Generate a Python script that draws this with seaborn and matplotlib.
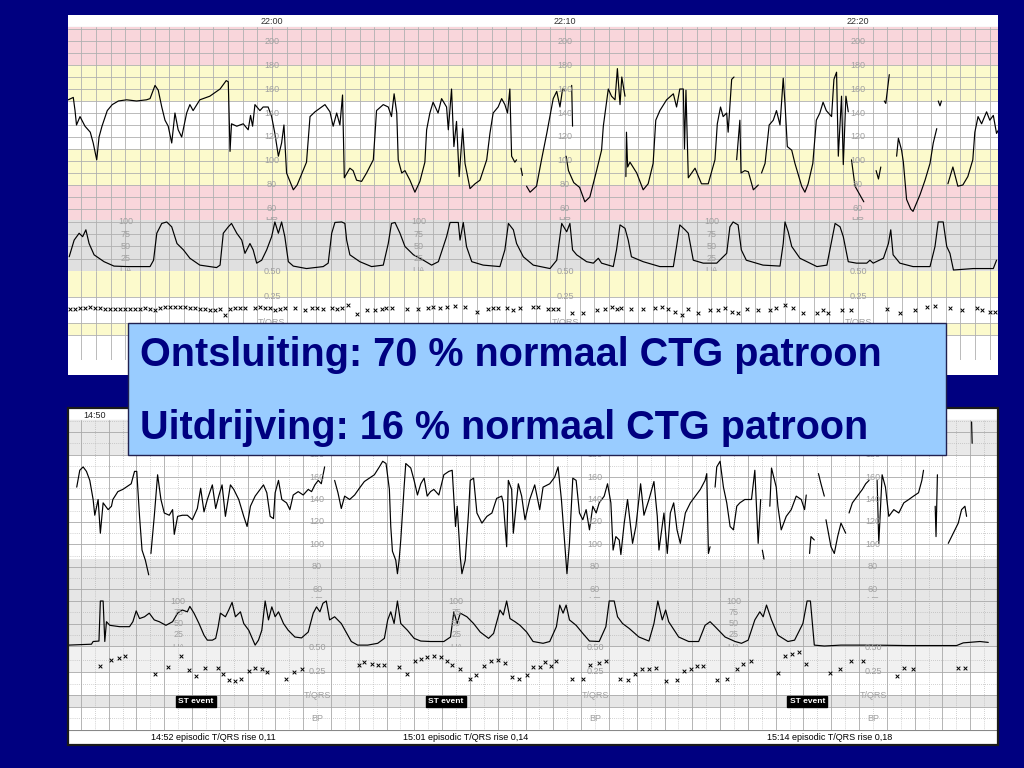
import numpy as np
import pandas as pd
import matplotlib
matplotlib.use('Agg')
import matplotlib.pyplot as plt
import seaborn as sns
from matplotlib.patches import Rectangle

# ---------------- top strip: ontsluiting (minutes relative to 22:00) ----------------
top_time_labels = ['22:00', '22:10', '22:20']
top_time_min = [0, 10, 20]

# fetal heart rate (minute, bpm); None marks a signal gap
top_hr = [(-6.95, 151), (-6.78, 153), (-6.72, 142), (-6.67, 130), (-6.55, 137), (-6.38, 129), (-6.2, 124),
          (-6.1, 115), (-5.98, 101), (-5.9, 120), (-5.8, 129), (-5.62, 142), (-5.45, 147), (-5.24, 150),
          (-4.96, 151), (-4.62, 150), (-4.28, 151), (-4.16, 152), (-3.99, 163), (-3.88, 159), (-3.76, 145),
          (-3.65, 134), (-3.54, 129), (-3.42, 115), (-3.31, 140), (-3.2, 126), (-3.08, 120), (-2.91, 140),
          (-2.8, 147), (-2.69, 142), (-2.46, 151), (-2.12, 154), (-1.77, 160), (-1.56, 167), (-1.49, 166),
          (-1.43, 108), (-1.38, 131), (-1.2, 129), (-0.98, 131), (-0.81, 126), (-0.73, 138), (-0.66, 129),
          (-0.58, 147), (-0.41, 142), (-0.3, 145), (-0.13, 145), (-0.01, 137), (0.1, 123), (0.22, 104),
          (0.33, 115), (0.41, 130), (0.5, 90), (0.73, 76), (0.86, 80), (1.18, 99), (1.3, 137), (1.47, 141),
          (1.81, 147), (1.98, 141), (2.09, 129), (2.21, 140), (2.32, 130), (2.41, 155), (2.47, 86), (2.66, 94),
          (2.77, 92), (2.89, 84), (3.06, 83), (3.23, 90), (3.46, 101), (3.57, 142), (3.8, 147), (3.97, 145),
          (4.08, 137), (4.17, 156), (4.26, 140), (4.31, 101), (4.43, 90), (4.54, 92), (4.71, 84), (4.88, 74),
          (5.05, 83), (5.22, 99), (5.28, 126), (5.39, 140), (5.5, 149), (5.67, 140), (5.79, 152), (5.96, 145),
          (6.02, 126), (6.13, 160), (6.21, 112), (6.3, 133), (6.39, 87), (6.51, 127), (6.59, 98), (6.76, 77),
          (6.93, 81), (7.1, 84), (7.33, 101), (7.44, 123), (7.55, 140), (7.72, 145), (7.84, 152), (7.95, 147),
          (8.04, 140), (8.12, 160), (8.18, 104), (8.29, 99), (8.35, 101), None,
          (8.5, 94), (8.55, 88), None,
          (8.69, 79), (8.81, 74), (9.03, 79), (9.2, 101), (9.38, 123), (9.6, 152), (9.72, 158), (9.83, 145),
          (9.92, 160), (9.98, 159), None,
          (10.23, 163), (10.26, 129), None,
          (10.04, 104), (10.12, 92), (10.3, 82), (10.5, 78), (10.68, 66), (10.85, 70), (11.08, 92), (11.25, 109),
          (11.31, 129), (11.48, 160), (11.59, 154), (11.71, 151), (11.79, 177), (11.88, 147), (11.94, 170),
          (12.05, 154), None,
          (12.08, 87), (12.1, 124), (12.14, 95), (12.22, 99), (12.45, 90), (12.67, 76), (12.84, 81), (13.01, 98),
          (13.1, 134), (13.24, 142), (13.47, 151), (13.7, 156), (13.81, 145), (13.92, 160), (14.04, 160),
          (14.08, 110), (14.13, 159), (14.21, 86), (14.44, 94), (14.66, 81), (14.89, 81), (15.12, 101),
          (15.2, 131), (15.31, 145), (15.4, 137), (15.52, 140), (15.57, 124), (15.69, 168), (15.77, 170), None,
          (15.86, 101), (15.97, 134), (16.01, 90), (16.14, 92), (16.26, 91), (16.43, 76), (16.6, 80), None,
          (16.71, 90), (16.83, 98), (16.97, 130), (17.11, 134), (17.22, 142), (17.34, 130), (17.45, 169),
          (17.51, 148), (17.59, 112), (17.74, 109), (17.85, 98), (18.08, 79), (18.19, 74), (18.3, 81),
          (18.46, 98), (18.58, 134), (18.7, 140), (18.81, 149), (18.92, 142), (19.1, 137), (19.18, 168),
          (19.27, 174), (19.33, 104), (19.44, 154), (19.5, 97), (19.59, 154), (19.67, 141), None,
          (19.78, 101), (19.9, 79), (20.13, 69), (20.2, 66), None,
          (20.62, 92), (20.7, 85), (20.78, 95), None,
          (20.9, 150), (20.95, 148), (21.07, 172), None,
          (21.32, 104), (21.38, 119), (21.49, 109), (21.55, 99), (21.66, 68), (21.8, 60), (21.88, 58),
          (22.12, 72), (22.29, 84), (22.46, 98), (22.57, 115), (22.69, 127), None,
          (22.74, 150), (22.8, 146), (22.85, 150), None,
          (23.07, 81), (23.24, 95), (23.41, 79), (23.58, 80), (23.75, 87), (23.92, 101), (23.99, 124),
          (24.1, 137), (24.22, 131), (24.39, 141), (24.5, 134), (24.62, 138), (24.73, 123), (24.8, 126)]

# uterine activity (minute, UA)
top_ua = [(-6.92, 29), (-6.75, 63), (-6.58, 77), (-6.46, 70), (-6.35, 84), (-6.24, 56), (-6.07, 33), (-5.73, 19),
          (-5.39, 10), (-4.95, 9), (-4.16, 9), (-4.04, 22), (-3.93, 77), (-3.76, 97), (-3.59, 100), (-3.42, 90),
          (-3.24, 56), (-3.02, 43), (-2.8, 26), (-2.46, 12), (-1.89, 7), (-1.77, 12), (-1.66, 77), (-1.49, 90),
          (-1.38, 97), (-1.2, 77), (-1.03, 63), (-0.92, 36), (-0.75, 56), (-0.64, 43), (-0.52, 16), (-0.35, 22),
          (-0.18, 43), (-0.01, 70), (0.1, 100), (0.22, 77), (0.33, 100), (0.44, 70), (0.56, 19), (0.73, 10),
          (1.18, 5), (1.75, 9), (1.92, 16), (2.04, 77), (2.15, 99), (2.38, 100), (2.49, 97), (2.55, 63),
          (2.66, 33), (3.0, 19), (3.4, 9), (3.8, 12), (3.97, 56), (4.08, 97), (4.2, 99), (4.37, 77), (4.54, 50),
          (4.83, 33), (5.17, 22), (5.45, 12), (5.68, 19), (5.96, 70), (6.08, 99), (6.36, 99), (6.42, 63),
          (6.53, 99), (6.64, 50), (6.82, 19), (7.21, 12), (7.78, 9), (7.95, 43), (8.07, 97), (8.24, 84),
          (8.35, 56), (8.58, 29), (8.92, 12), (9.49, 5), (9.72, 22), (9.89, 97), (10.06, 80), (10.17, 97),
          (10.26, 43), (10.4, 33), (10.74, 19), (10.97, 16), (11.14, 26), (11.25, 16), (11.65, 9), (11.76, 43),
          (11.88, 94), (12.05, 87), (12.16, 63), (12.27, 29), (12.67, 19), (13.24, 9), (13.7, 9), (13.81, 50),
          (13.92, 94), (14.1, 84), (14.21, 77), (14.38, 22), (14.72, 16), (15.18, 16), (15.52, 36), (15.63, 90),
          (15.74, 100), (15.91, 94), (16.02, 43), (16.19, 22), (16.76, 12), (17.34, 10), (17.45, 56),
          (17.51, 100), (17.62, 80), (17.74, 50), (18.02, 26), (18.6, 9), (18.94, 12), (19.11, 63), (19.22, 97),
          (19.39, 90), (19.5, 70), (19.67, 19), (19.95, 16), (20.3, 16), (20.41, 22), (20.52, 16), (20.87, 26),
          (21.04, 56), (21.12, 84), (21.2, 33), (21.43, 16), (21.88, 9), (22.46, 9), (22.63, 50), (22.74, 100),
          (22.91, 100), (23.03, 50), (23.14, 36), (23.26, 2), (23.94, 5), (24.62, 5), (24.73, 22)]

# T/QRS ratio markers (minute, ratio)
top_tq = [(-6.89, .135), (-6.72, .135), (-6.55, .14), (-6.38, .14), (-6.21, .15), (-6.04, .14), (-5.87, .14),
          (-5.70, .135), (-5.53, .135), (-5.36, .135), (-5.19, .135), (-5.02, .135), (-4.85, .135),
          (-4.68, .135), (-4.51, .135), (-4.33, .14), (-4.16, .135), (-3.99, .125), (-3.82, .14), (-3.65, .15),
          (-3.48, .155), (-3.31, .15), (-3.14, .15), (-2.97, .15), (-2.80, .14), (-2.63, .14), (-2.46, .135),
          (-2.29, .135), (-2.12, .125), (-1.95, .125), (-1.77, .135), (-1.60, .08), (-1.43, .135), (-1.26, .14),
          (-1.09, .14), (-0.92, .14), (-0.58, .14), (-0.41, .15), (-0.24, .14), (-0.07, .14), (0.10, .125),
          (0.27, .135), (0.44, .14), (0.78, .14), (1.13, .125), (1.36, .14), (1.53, .14), (1.75, .135),
          (2.04, .14), (2.21, .135), (2.38, .14), (2.60, .17), (2.89, .09), (3.23, .125), (3.52, .125),
          (3.74, .135), (3.91, .14), (4.09, .14), (4.60, .135), (4.99, .135), (5.34, .14), (5.51, .15),
          (5.73, .14), (5.96, .155), (6.25, .165), (6.59, .155), (6.99, .11), (7.38, .135), (7.55, .14),
          (7.72, .14), (8.01, .14), (8.23, .125), (8.46, .14), (8.91, .15), (9.09, .15), (9.43, .135),
          (9.60, .135), (9.77, .135), (10.23, .095), (10.63, .10), (11.08, .125), (11.37, .135), (11.59, .15),
          (11.76, .135), (11.93, .14), (12.27, .135), (12.67, .135), (13.07, .14), (13.30, .15), (13.53, .135),
          (13.75, .11), (13.98, .08), (14.21, .135), (14.55, .095), (14.95, .125), (15.23, .125), (15.46, .14),
          (15.69, .11), (15.92, .095), (16.20, .135), (16.60, .125), (17.00, .125), (17.22, .14), (17.51, .17),
          (17.79, .14), (18.13, .095), (18.59, .095), (18.82, .125), (18.99, .095), (19.44, .125), (19.78, .125),
          (20.98, .135), (21.43, .095), (21.95, .125), (22.34, .15), (22.63, .165), (23.14, .14), (23.54, .125),
          (24.05, .14), (24.22, .125), (24.51, .11), (24.68, .11)]

# ---------------- bottom strip: uitdrijving (minutes relative to 14:50) ----------------
# only the header labels not hidden by the text box
bot_time_labels = ['14:50', '15:20']
bot_time_min = [0, 30]

bot_hr = [(-0.65, 151), (-0.54, 166), (-0.42, 169), (-0.3, 165), (-0.18, 157), (-0.06, 140), (0.0, 126),
          (0.12, 140), (0.2, 110), (0.3, 137), (0.48, 131), (0.6, 134), (0.65, 140), (0.83, 147), (1.01, 149),
          (1.13, 151), (1.31, 154), (1.43, 165), (1.51, 165), (1.61, 125), (1.7, 95), (1.82, 86), (1.94, 73), None,
          (2.02, 92), (2.14, 125), (2.26, 162), (2.38, 140), (2.5, 128), (2.68, 126), (2.8, 131), (2.86, 109),
          (2.98, 125), (3.15, 126), (3.33, 126), (3.51, 122), (3.69, 132), (3.81, 150), (3.93, 129), (4.05, 140),
          (4.23, 153), (4.35, 132), (4.46, 143), (4.58, 153), (4.7, 125), (4.88, 153), (5.0, 149), (5.18, 140),
          (5.36, 125), (5.48, 116), (5.6, 134), (5.77, 143), (5.95, 149), (6.07, 153), (6.19, 146), (6.31, 125),
          (6.43, 123), (6.49, 146), (6.61, 157), (6.73, 140), (6.9, 137), (7.02, 131), (7.14, 144), (7.32, 147),
          (7.5, 144), (7.68, 149), (7.8, 147), (7.92, 153), (8.04, 157), (8.15, 154), (8.27, 169), None,
          (8.63, 157), (8.75, 146), (8.87, 132), (8.99, 143), (9.17, 140), (9.35, 144), (9.52, 150), (9.7, 156),
          (9.88, 159), (10.06, 162), (10.24, 169), (10.36, 174), (10.48, 172), (10.6, 149), (10.65, 116),
          (10.71, 94), (10.83, 86), (10.89, 74), (10.95, 86), (11.01, 104), (11.13, 151), (11.19, 172),
          (11.37, 168), (11.49, 157), (11.61, 144), (11.73, 154), (11.85, 159), (11.96, 143), (12.08, 147),
          (12.2, 149), (12.38, 144), (12.56, 162), (12.74, 165), (12.86, 166), (12.98, 116), (13.04, 134),
          (13.15, 89), (13.21, 74), (13.33, 86), (13.45, 129), (13.51, 157), (13.63, 159), (13.75, 128),
          (13.93, 119), (14.11, 125), (14.29, 128), (14.46, 141), (14.64, 143), (14.7, 137), (14.82, 98),
          (14.88, 157), (15.0, 149), (15.06, 110), (15.24, 154), (15.36, 143), (15.48, 122), (15.65, 140),
          (15.83, 153), (16.01, 131), (16.13, 151), (16.37, 154), (16.55, 160), (16.67, 169), (16.79, 140),
          (16.9, 104), (16.99, 74), (17.08, 101), (17.2, 159), (17.32, 157), (17.44, 128), (17.56, 122),
          (17.68, 131), (17.8, 113), (17.92, 134), (18.04, 128), (18.15, 137), (18.33, 143), (18.45, 154),
          (18.57, 137), (18.65, 95), (18.75, 107), (18.87, 104), (18.93, 91), (19.05, 119), (19.17, 140),
          (19.35, 101), (19.47, 116), (19.64, 154), (19.76, 126), (19.94, 140), (20.12, 156), (20.24, 125),
          (20.3, 95), (20.48, 128), (20.6, 92), (20.71, 128), (20.83, 137), (20.95, 113), (21.07, 101),
          (21.25, 128), (21.43, 137), (21.61, 143), (21.79, 149), (21.96, 157), (22.02, 163), (22.08, 92),
          (22.14, 98), None,
          (22.32, 151), (22.38, 169), (22.5, 174), (22.62, 151), (22.74, 137), (22.86, 116), (22.98, 113),
          (23.1, 134), (23.21, 137), (23.39, 140), (23.63, 140), (23.75, 166), (23.87, 101), (23.96, 140), None,
          (24.02, 95), (24.08, 87), None,
          (24.29, 134), (24.35, 168), (24.52, 151), (24.58, 134), (24.7, 113), (24.88, 125), (25.06, 131),
          (25.24, 143), (25.42, 140), (25.54, 131), (25.6, 144), None,
          (25.72, 92), (25.77, 107), (25.89, 104), None,
          (26.04, 163), (26.13, 154), (26.25, 143), None,
          (26.31, 122), (26.49, 98), (26.61, 92), (26.73, 107), (26.85, 119), (27.02, 110), None,
          (27.14, 128), (27.26, 137), (27.44, 143), (27.62, 149), (27.74, 154), (27.86, 157), None,
          (28.15, 157), (28.21, 101), (28.33, 162), (28.45, 151), (28.57, 125), (28.75, 131), (28.93, 128),
          (29.11, 137), (29.29, 140), (29.46, 143), (29.64, 146), (29.76, 157), (29.82, 166), None,
          (30.24, 134), (30.27, 107), (30.32, 162), None,
          (30.71, 101), (30.89, 110), (31.07, 119), (31.19, 131), (31.31, 134), (31.37, 125), None,
          (31.55, 209), (31.57, 190)]

bot_ua = [(-0.95, 2), (-0.12, 4), (-0.06, 10), (0.15, 11), (0.2, 100), (0.3, 100), (0.36, 10), (0.42, 54),
          (0.54, 46), (0.89, 43), (1.25, 43), (1.37, 54), (1.49, 78), (1.61, 61), (1.79, 65), (1.96, 73),
          (2.14, 58), (2.32, 54), (2.56, 46), (2.8, 54), (2.98, 73), (3.15, 80), (3.33, 76), (3.42, 88),
          (3.57, 73), (3.75, 50), (3.93, 24), (4.05, 13), (4.23, 13), (4.35, 17), (4.44, 43), (4.52, 73),
          (4.7, 65), (4.82, 80), (4.94, 97), (5.06, 65), (5.24, 76), (5.36, 50), (5.54, 35), (5.77, 2),
          (5.89, 13), (6.01, 35), (6.13, 100), (6.25, 58), (6.37, 87), (6.49, 65), (6.61, 76), (6.79, 50),
          (6.96, 35), (7.2, 20), (7.44, 18), (7.68, 31), (7.86, 73), (7.98, 87), (8.1, 76), (8.21, 95),
          (8.33, 100), (8.45, 58), (8.63, 65), (8.87, 50), (9.23, 10), (9.46, 2), (9.82, 2), (10.18, 6),
          (10.42, 17), (10.54, 58), (10.65, 76), (10.77, 50), (10.89, 100), (11.01, 50), (11.25, 35),
          (11.49, 17), (11.73, 11), (12.08, 10), (12.56, 10), (12.8, 20), (12.92, 76), (13.04, 50), (13.15, 73),
          (13.39, 65), (13.63, 50), (13.87, 31), (14.17, 17), (14.35, 28), (14.58, 80), (14.7, 69), (14.82, 100),
          (14.94, 61), (15.12, 54), (15.3, 46), (15.54, 31), (15.77, 10), (16.13, 6), (16.37, 10), (16.61, 43),
          (16.73, 91), (16.85, 73), (16.96, 91), (17.08, 58), (17.32, 46), (17.56, 28), (17.8, 11), (18.15, 10),
          (18.39, 43), (18.51, 100), (18.69, 100), (18.81, 65), (18.99, 50), (19.23, 39), (19.58, 20),
          (19.94, 11), (20.12, 50), (20.26, 100), (20.42, 58), (20.54, 80), (20.65, 54), (21.01, 20),
          (21.37, 10), (21.73, 10), (21.96, 46), (22.14, 54), (22.32, 43), (22.68, 20), (23.04, 10), (23.27, 6),
          (23.51, 13), (23.75, 58), (23.93, 76), (24.05, 65), (24.17, 91), (24.35, 58), (24.58, 24), (24.94, 10),
          (25.18, 13), (25.48, 50), (25.63, 100), (25.75, 100), (25.89, 2), (26.25, 0), (26.85, 2), (28.04, 2),
          (29.23, 1), (31.01, 1), (31.25, 7), (31.85, 10), (32.15, 8)]

bot_tq = [(0.2, .31), (0.6, .37), (0.86, .40), (1.1, .42), (2.17, .23), (2.62, .30), (3.12, .42), (3.39, .27),
          (3.65, .21), (3.95, .29), (4.43, .29), (4.61, .23), (4.82, .17), (5.06, .16), (5.27, .18), (5.54, .26),
          (5.77, .29), (6.01, .28), (6.21, .25), (6.87, .18), (7.17, .25), (7.44, .28), (9.52, .32), (9.7, .35),
          (9.98, .33), (10.18, .32), (10.39, .32), (10.95, .30), (11.25, .23), (11.51, .36), (11.73, .39),
          (11.96, .41), (12.2, .42), (12.44, .41), (12.68, .36), (12.86, .32), (13.13, .28), (13.51, .18),
          (13.73, .22), (13.99, .31), (14.25, .36), (14.52, .37), (14.76, .34), (15.0, .20), (15.26, .18),
          (15.54, .22), (15.77, .30), (16.01, .30), (16.21, .35), (16.4, .31), (16.61, .36), (17.18, .18),
          (17.56, .18), (17.82, .32), (18.15, .34), (18.39, .36), (18.89, .18), (19.17, .17), (19.44, .23),
          (19.7, .28), (19.94, .28), (20.18, .29), (20.56, .16), (20.95, .17), (21.19, .26), (21.45, .28),
          (21.67, .31), (21.87, .31), (22.4, .17), (22.76, .18), (23.1, .28), (23.33, .33), (23.6, .36),
          (24.58, .24), (24.85, .42), (25.1, .44), (25.33, .46), (25.6, .33), (26.46, .24), (26.82, .28),
          (27.2, .36), (27.65, .36), (28.85, .21), (29.11, .29), (29.43, .28), (31.07, .29), (31.31, .29)]

bot_event_min = [2, 11, 24]
bot_event_text = ['14:52 episodic T/QRS rise 0,11', '15:01 episodic T/QRS rise 0,14',
                  '15:14 episodic T/QRS rise 0,18']

box_lines = ['Ontsluiting: 70 % normaal CTG patroon', 'Uitdrijving: 16 % normaal CTG patroon']


def to_frame(pairs, name):
    rows, seg = [], 0
    for p in pairs:
        if p is None:
            seg += 1
            continue
        rows.append((p[0], p[1], seg))
    return pd.DataFrame(rows, columns=['min', name, 'seg'])


sns.set_style('white')
plt.rcParams['font.family'] = ['Liberation Sans', 'DejaVu Sans']

W, H = 1024, 768
fig = plt.figure(figsize=(W / 100, H / 100), dpi=100)
fig.patch.set_facecolor('#000080')


def add_ax(top, bottom, left=68, right=998):
    ax = fig.add_axes([left / W, 1 - bottom / H, (right - left) / W, (bottom - top) / H])
    ax.set_facecolor('white')
    for s in ax.spines.values():
        s.set_visible(False)
    ax.tick_params(left=False, bottom=False, labelleft=False, labelbottom=False)
    ax.set_xlabel('')
    ax.set_ylabel('')
    return ax


def style_grid(ax, xmaj, yticks, color='#b0b0b0', xmin=None, ymin=None):
    ax.set_axisbelow(True)
    ax.set_xticks(xmaj)
    ax.set_yticks(yticks)
    ax.grid(True, which='major', color=color, lw=0.6)
    if xmin is not None:
        ax.set_xticks(xmin, minor=True)
    if ymin is not None:
        ax.set_yticks(ymin, minor=True)
    ax.grid(True, which='minor', color=color, lw=0.5, ls=(0, (1, 2)))
    ax.tick_params(which='both', left=False, bottom=False, labelleft=False, labelbottom=False)


LBL = dict(color='#a0a0a0', fontsize=6.5, ha='center', va='center', clip_on=False, zorder=3)
PINK, YELLOW, GREY = '#f9d6db', '#fcfacc', '#e0e0e0'

# ================= top panel =================
TX = (-6.96, 24.78)
frame = add_ax(15, 375)
frame.set_xticks([])
frame.set_yticks([])

head = add_ax(15, 27)
head.set_xlim(TX)
head.set_ylim(0, 1)
for t, lab in zip(top_time_min, top_time_labels):
    head.text(t, 0.45, lab, fontsize=6.5, color='#333333', ha='center', va='center')
head.axhline(0, color='#999999', lw=0.8)

ax = add_ax(27, 220)
ax.set_xlim(TX)
ax.set_ylim(50.83, 211.67)
for lo, hi, c in [(180, 212, PINK), (150, 180, YELLOW), (110, 150, 'white'), (80, 110, YELLOW), (50, 80, PINK)]:
    ax.axhspan(lo, hi, color=c, lw=0, zorder=0)
style_grid(ax, np.arange(-6.5, 25, 0.5), np.arange(60, 211, 10))
sns.lineplot(data=to_frame(top_hr, 'hr'), x='min', y='hr', units='seg', estimator=None,
             color='black', lw=0.85, ax=ax, legend=False)
ax.set_xlabel('')
ax.set_ylabel('')
for t in top_time_min:
    for v in range(60, 201, 20):
        ax.text(t, v, str(v), **LBL)
    ax.text(t, 50, 'HR', **LBL)

ax = add_ax(220, 271)
ax.set_xlim(TX)
ax.set_ylim(0, 104)
ax.axhspan(-5, 110, color=GREY, lw=0, zorder=0)
style_grid(ax, np.arange(-6.5, 25, 0.5), [25, 50, 75, 100])
sns.lineplot(data=to_frame(top_ua, 'ua'), x='min', y='ua', units='seg', estimator=None,
             color='black', lw=0.85, ax=ax, legend=False)
ax.set_xlabel('')
ax.set_ylabel('')
for t in [m - 5 for m in top_time_min]:
    for v in [100, 75, 50, 25]:
        ax.text(t, v, str(v), **LBL)
    ax.text(t, 0, 'UA', **LBL)

ax = add_ax(271, 360)
ax.set_xlim(TX)
ax.set_ylim(-0.356, 0.5)
ax.axhspan(0.25, 0.5, color=YELLOW, lw=0, zorder=0)
ax.axhspan(-0.115, 0.0, color=YELLOW, lw=0, zorder=0)
style_grid(ax, np.arange(-6.5, 25, 0.5), [0.25, 0.0, -0.115, -0.356])
sns.scatterplot(data=to_frame(top_tq, 'tq'), x='min', y='tq', marker='x', s=7, linewidth=0.7,
                color='black', ax=ax, legend=False)
ax.set_xlabel('')
ax.set_ylabel('')
for t in top_time_min:
    ax.text(t, 0.5, '0.50', **LBL)
    ax.text(t, 0.25, '0.25', **LBL)
    ax.text(t, 0.0, 'T/QRS', **LBL)

# ================= bottom panel =================
BX = (-0.964, 32.25)
frame = add_ax(408, 745)
frame.set_xticks([])
frame.set_yticks([])

head = add_ax(409, 420)
head.set_xlim(BX)
head.set_ylim(0, 1)
for t, lab in zip(bot_time_min, bot_time_labels):
    head.text(t, 0.45, lab, fontsize=6.5, color='#222222', ha='center', va='center')
head.axhline(0, color='#999999', lw=0.8)

ax = add_ax(420, 598)
ax.set_xlim(BX)
ax.set_ylim(52.4, 210.7)
ax.axhspan(180, 215, color='#e9e9e9', lw=0, zorder=0)
ax.axhspan(45, 87, color='#e6e6e6', lw=0, zorder=0)
style_grid(ax, np.arange(-0.5, 33, 1.0), np.arange(60, 211, 20), color='#a8a8a8',
           xmin=np.arange(-0.5, 33, 0.5), ymin=np.arange(70, 211, 20))
sns.lineplot(data=to_frame(bot_hr, 'hr'), x='min', y='hr', units='seg', estimator=None,
             color='black', lw=0.85, ax=ax, legend=False)
ax.set_xlabel('')
ax.set_ylabel('')
for t in [8, 18, 28]:
    for v in range(60, 181, 20):
        ax.text(t, v, str(v), **LBL)
    ax.text(t, 50, 'HR', **LBL)

ax = add_ax(598, 647)
ax.set_xlim(BX)
ax.set_ylim(-2.2, 106.7)
ax.axhspan(-5, 110, color='#e6e6e6', lw=0, zorder=0)
style_grid(ax, np.arange(-0.5, 33, 1.0), [0, 50, 100], color='#a8a8a8',
           xmin=np.arange(-0.5, 33, 0.5), ymin=[25, 75])
sns.lineplot(data=to_frame(bot_ua, 'ua'), x='min', y='ua', units='seg', estimator=None,
             color='black', lw=0.85, ax=ax, legend=False)
ax.set_xlabel('')
ax.set_ylabel('')
for t in [3, 13, 23]:
    for v in [100, 75, 50, 25]:
        ax.text(t, v, str(v), **LBL)
    ax.text(t, -4, 'UA', **LBL)

ax = add_ax(647, 730)
ax.set_xlim(BX)
ax.set_ylim(-0.354, 0.51)
ax.axhspan(0.25, 0.52, color='#f1f1f1', lw=0, zorder=0)
ax.axhspan(-0.115, 0.01, color='#e6e6e6', lw=0, zorder=0)
style_grid(ax, np.arange(-0.5, 33, 1.0), [0.25, 0.01, -0.115], color='#a8a8a8',
           xmin=np.arange(-0.5, 33, 0.5), ymin=[0.375, 0.125, -0.23])
sns.scatterplot(data=to_frame(bot_tq, 'tq'), x='min', y='tq', marker='x', s=7, linewidth=0.7,
                color='black', ax=ax, legend=False)
ax.set_xlabel('')
ax.set_ylabel('')
for t in [8, 18, 28]:
    ax.text(t, 0.5, '0.50', **LBL)
    ax.text(t, 0.25, '0.25', **LBL)
    ax.text(t, 0.0, 'T/QRS', **LBL)
    ax.text(t, -0.23, 'BP', **LBL)
for t in bot_event_min:
    ax.text(t + 1, -0.055, 'ST event', color='white', fontsize=6, fontweight='bold', ha='left',
            va='center', bbox=dict(boxstyle='square,pad=0.25', fc='black', ec='black'), zorder=4)

foot = add_ax(730, 744)
foot.set_xlim(BX)
foot.set_ylim(0, 1)
foot.axhline(1, color='#888888', lw=0.8)
for t, lab in zip(bot_event_min, bot_event_text):
    foot.text(t, 0.45, lab, fontsize=6.5, color='black', ha='left', va='center')

fig.add_artist(Rectangle((68 / W, 1 - 745 / H), 930 / W, 337 / H, transform=fig.transFigure,
                         fill=False, ec='#1a1a1a', lw=1.6, zorder=5))

# ================= overlay text box =================
fig.add_artist(Rectangle((128 / W, 1 - 455 / H), (946 - 128) / W, (455 - 323) / H, transform=fig.transFigure,
                         fc='#99ccff', ec='#202050', lw=1.0, zorder=10))
for y_px, line in zip([366, 439], box_lines):
    fig.text(140 / W, 1 - y_px / H, line, fontsize=28.5, fontweight='bold', color='#000080',
             ha='left', va='baseline', zorder=11)

fig.savefig('out.png', dpi=100, facecolor=fig.get_facecolor())
